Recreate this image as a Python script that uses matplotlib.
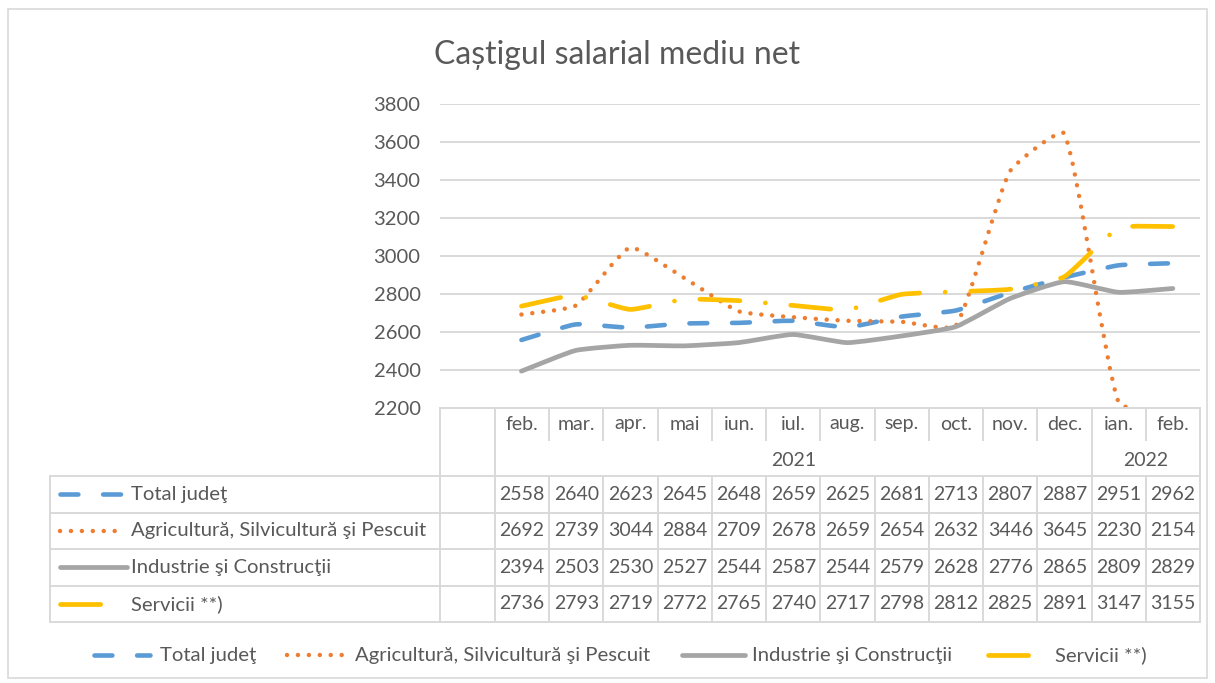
import numpy as np
import matplotlib
matplotlib.use("Agg")
import matplotlib.pyplot as plt
from matplotlib.path import Path
from matplotlib.patches import PathPatch, Rectangle
from matplotlib.lines import Line2D

plt.rcParams['font.family'] = ['Lato', 'DejaVu Sans']

# Data
months = ["feb.", "mar.", "apr.", "mai", "iun.", "iul.", "aug.", "sep.", "oct.", "nov.", "dec.", "ian.", "feb."]
years = [("2021", 0, 11), ("2022", 11, 13)]
series_names = ["Total judeţ", "Agricultură, Silvicultură şi Pescuit", "Industrie şi Construcţii", "Servicii **)"]
total = [2558, 2640, 2623, 2645, 2648, 2659, 2625, 2681, 2713, 2807, 2887, 2951, 2962]
agri = [2692, 2739, 3044, 2884, 2709, 2678, 2659, 2654, 2632, 3446, 3645, 2230, 2154]
industrie = [2394, 2503, 2530, 2527, 2544, 2587, 2544, 2579, 2628, 2776, 2865, 2809, 2829]
servicii = [2736, 2793, 2719, 2772, 2765, 2740, 2717, 2798, 2812, 2825, 2891, 3147, 3155]
yticks = [2200, 2400, 2600, 2800, 3000, 3200, 3400, 3600, 3800]

text_col = "#595959"
grid_col = "#D9D9D9"
styles = [
    dict(color="#5B9BD5", lw=3.3, ls=(0, (3.9, 5.4))),
    dict(color="#ED7D31", lw=3.2, ls=(0, (0.01, 2.45))),
    dict(color="#A5A5A5", lw=3.4, ls="-"),
    dict(color="#FFC000", lw=3.4, ls=(0, (8.5, 5.4, 0.01, 5.4))),
]
data = [total, agri, industrie, servicii]


def smooth_path(xs, ys, sx, sy, k=1 / 6.5):
    # smoothed line as cubic Bezier segments, tangents weighted by segment length on screen
    pts = np.column_stack([xs, ys]).astype(float)
    scr = pts * np.array([sx, sy])
    n = len(pts)
    verts = [pts[0]]
    codes = [Path.MOVETO]

    def ctrl(i, side):
        a = max(i - 1, 0)
        b = min(i + 1, n - 1)
        d_prev = np.hypot(*(scr[i] - scr[a]))
        d_next = np.hypot(*(scr[b] - scr[i]))
        tot = d_prev + d_next
        tan = pts[b] - pts[a]
        if side > 0:
            return pts[i] + tan * d_next / tot * k
        return pts[i] - tan * d_prev / tot * k

    for i in range(n - 1):
        verts += [ctrl(i, 1), ctrl(i + 1, -1), pts[i + 1]]
        codes += [Path.CURVE4] * 3
    return Path(verts, codes)


W, H = 1215, 683
fig = plt.figure(figsize=(W / 100, H / 100), dpi=100)

# main plot area (pixels: x 440..1200, y 104..408)
L, R, T, B = 440, 1200, 104, 408
ax = fig.add_axes([L / W, 1 - B / H, (R - L) / W, (B - T) / H])
ax.set_xlim(-0.5, 13.5)
ax.set_ylim(2200, 3800)
ax.set_yticks(yticks)
ax.set_xticks([])
for s in ax.spines.values():
    s.set_visible(False)
ax.tick_params(axis='y', length=0, pad=14, labelsize=14.5, labelcolor=text_col)
for yv in yticks[1:]:
    ax.axhline(yv, color=grid_col, lw=1.4, zorder=1)

xs = np.arange(1, len(months) + 1)
sx = (R - L) / 14.0
sy = (B - T) / 1600.0
for vals, st in zip(data, styles):
    patch = PathPatch(smooth_path(xs, vals, sx, sy), fill=False, edgecolor=st["color"],
                      lw=st["lw"], linestyle=st["ls"], capstyle='round', joinstyle='round', zorder=3)
    ax.add_patch(patch)

# overlay in pixel coordinates for title, table, legend
ov = fig.add_axes([0, 0, 1, 1], facecolor='none')
ov.set_xlim(0, W)
ov.set_ylim(H, 0)
ov.axis('off')

ov.add_patch(Rectangle((8, 9), 1199, 669, fill=False, edgecolor=grid_col, lw=1.2))
ov.text(617, 55, "Caștigul salarial mediu net", ha='center', va='center', fontsize=23, color=text_col)

tl = dict(color=grid_col, lw=1.4)
cw = (R - 495) / 13.0
rows = [476, 512.5, 549, 585.5, 622]
# header
ov.plot([L, R], [B, B], **tl)
for k in range(14):
    xk = 495 + k * cw
    if k in (0, 11, 13):
        ov.plot([xk, xk], [B, 622], **tl)
    else:
        ov.plot([xk, xk], [B, 440], **tl)
        ov.plot([xk, xk], [476, 622], **tl)
ov.plot([L, L], [B, 622], **tl)
ov.plot([50, 50], [476, 622], **tl)
for yr in rows:
    ov.plot([50, R], [yr, yr], **tl)

for i, m in enumerate(months):
    ov.text(495 + (i + 0.5) * cw, 424, m, ha='center', va='center', fontsize=14, color=text_col)
for lab, a, b in years:
    ov.text(495 + (a + b) / 2 * cw, 460, lab, ha='center', va='center', fontsize=14, color=text_col)

key_len = [62, 64, 67, 47]
for r, (name, vals, st) in enumerate(zip(series_names, data, styles)):
    yc = (rows[r] + rows[r + 1]) / 2
    ov.add_line(Line2D([60, 60 + key_len[r]], [yc, yc], color=st["color"], lw=st["lw"],
                       linestyle=st["ls"], dash_capstyle='round', solid_capstyle='round'))
    ov.text(131, yc, name, ha='left', va='center', fontsize=14.6, color=text_col)
    for i, v in enumerate(vals):
        ov.text(495 + (i + 0.5) * cw, yc, str(v), ha='center', va='center', fontsize=14, color=text_col)

# bottom legend
leg = [(94, 150, 160), (287, 345, 355), (682, 745, 752), (988, 1030, 1055)]
for (x0, x1, xt), name, st in zip(leg, series_names, styles):
    ov.add_line(Line2D([x0, x1], [655, 655], color=st["color"], lw=st["lw"],
                       linestyle=st["ls"], dash_capstyle='round', solid_capstyle='round'))
    ov.text(xt, 655, name, ha='left', va='center', fontsize=14.6, color=text_col)

fig.savefig("out.png", dpi=100)
